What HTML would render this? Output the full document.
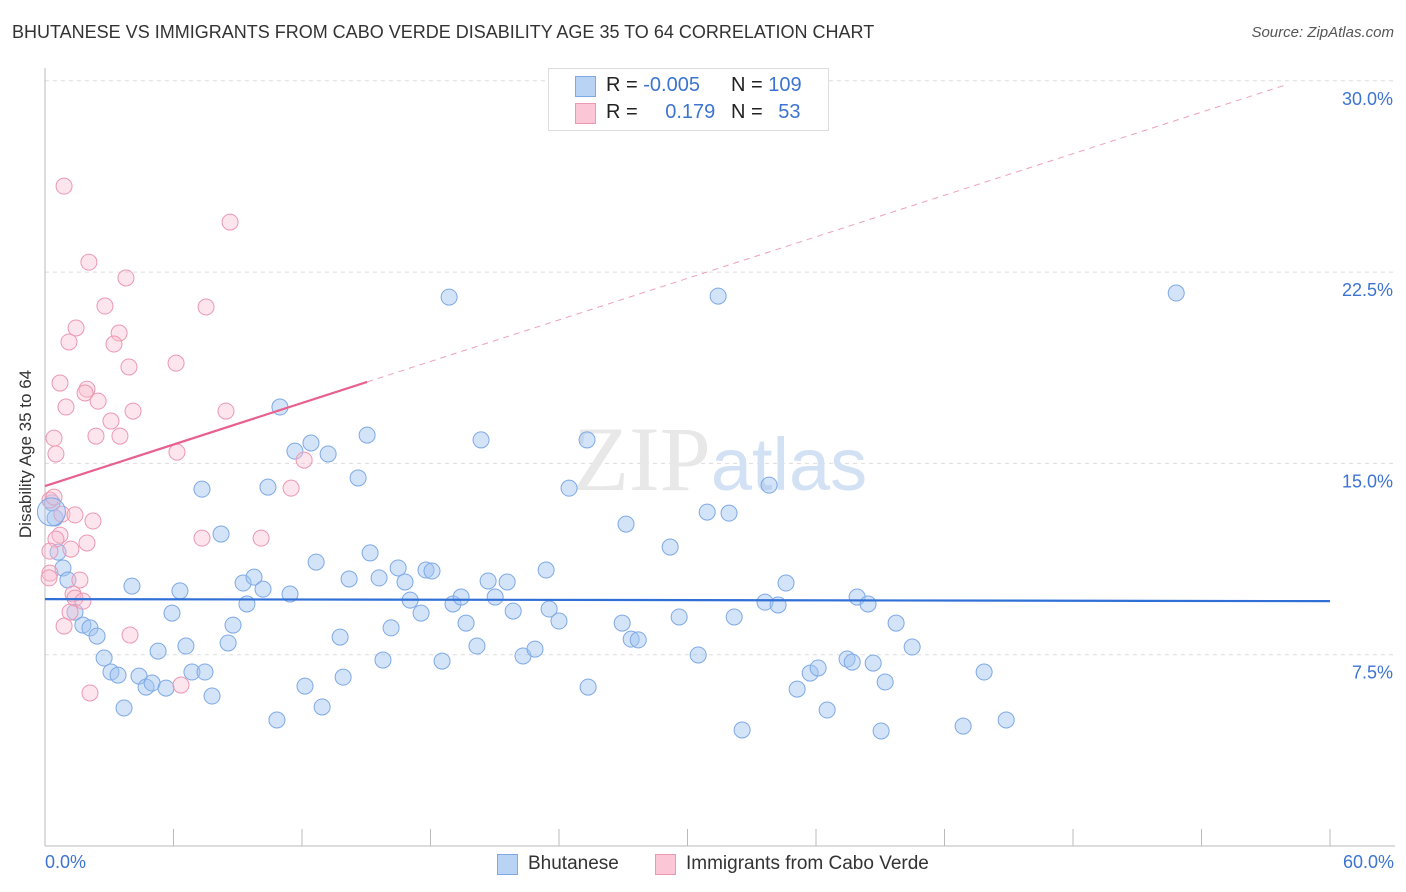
<!DOCTYPE html>
<html><head><meta charset="utf-8"><style>
body{margin:0;background:#fff;font-family:"Liberation Sans",sans-serif;}
#wrap{position:relative;width:1406px;height:892px;overflow:hidden;}
.t{position:absolute;white-space:nowrap;}
</style></head><body>
<div id="wrap">
<div class="t" style="left:12px;top:22px;font-size:18px;color:#333;">BHUTANESE VS IMMIGRANTS FROM CABO VERDE DISABILITY AGE 35 TO 64 CORRELATION CHART</div>
<div class="t" style="right:12px;top:24px;font-size:15px;color:#555;font-style:italic;">Source: ZipAtlas.com</div>
<div class="t" style="left:-64px;top:444px;font-size:17px;color:#333;transform:rotate(-90deg);width:180px;text-align:center;">Disability Age 35 to 64</div>
<svg id="svg" width="1406" height="892" style="position:absolute;left:0;top:0;"></svg>
<div style="position:absolute;left:548px;top:68px;width:279px;height:61px;border:1px solid #ddd;background:#fff;"></div>
<div style="position:absolute;left:575px;top:76px;width:19px;height:19px;background:#b9d3f5;border:1px solid #7ea9e6;"></div>
<div style="position:absolute;left:575px;top:103px;width:19px;height:19px;background:#fbc7d6;border:1px solid #eb98b1;"></div>
<div class="t" style="left:606px;top:74px;font-size:20px;color:#222;">R = <span style="color:#3d74d1">-0.005</span></div>
<div class="t" style="left:731px;top:74px;font-size:20px;color:#222;">N = <span style="color:#3d74d1">109</span></div>
<div class="t" style="left:606px;top:101px;font-size:20px;color:#222;">R = <span style="color:#3d74d1;margin-left:22px">0.179</span></div>
<div class="t" style="left:731px;top:101px;font-size:20px;color:#222;">N = <span style="color:#3d74d1;margin-left:10px">53</span></div>
<div class="t" style="left:45px;top:852px;font-size:18px;color:#3d74d1;">0.0%</div>
<div class="t" style="right:12px;top:852px;font-size:18px;color:#3d74d1;">60.0%</div>
<div style="position:absolute;left:497px;top:854px;width:19px;height:19px;background:#b9d3f5;border:1px solid #7ea9e6;"></div>
<div class="t" style="left:528px;top:853px;font-size:19px;color:#333;">Bhutanese</div>
<div style="position:absolute;left:655px;top:854px;width:19px;height:19px;background:#fbc7d6;border:1px solid #eb98b1;"></div>
<div class="t" style="left:686px;top:853px;font-size:19px;color:#333;">Immigrants from Cabo Verde</div>
</div>
<script>
const blueX=[0.33,0.47,0.61,0.84,1.07,1.40,1.77,2.10,2.43,2.76,3.08,3.41,3.69,4.06,4.39,4.72,5.00,5.28,5.65,5.93,6.30,6.58,6.86,7.33,7.47,7.80,8.22,8.55,8.78,9.25,9.43,9.76,10.18,10.41,10.83,10.97,11.44,11.67,12.14,12.42,12.66,12.94,13.22,13.78,13.92,14.20,14.62,15.04,15.18,15.60,15.78,16.16,16.49,16.81,17.05,17.56,17.79,18.07,18.54,18.87,19.05,19.43,19.66,20.17,20.36,20.69,21.02,21.58,21.86,22.32,22.88,23.40,23.54,24.00,24.47,25.36,25.31,26.95,27.13,27.37,27.70,29.19,29.61,30.50,30.92,31.43,31.94,32.18,32.55,33.62,33.81,34.23,34.60,35.12,35.73,36.10,36.52,37.45,37.69,37.92,38.43,38.67,39.04,39.23,39.74,40.49,42.87,43.85,44.88,52.82];
const blueY=[13.45,12.86,11.52,10.90,10.43,9.17,8.66,8.55,8.23,7.37,6.82,6.70,5.41,10.19,6.66,6.23,6.39,7.64,6.19,9.13,10.00,7.84,6.82,13.99,6.82,5.88,12.23,7.96,8.66,10.31,9.49,10.54,10.07,14.07,4.94,17.21,9.88,15.48,6.27,15.80,11.13,5.45,15.37,8.19,6.62,10.47,14.43,16.11,11.49,10.51,7.29,8.55,10.90,10.35,9.64,9.13,10.82,10.78,7.25,21.52,9.49,9.76,8.74,7.84,15.92,10.39,9.76,10.35,9.21,7.45,7.72,10.82,9.29,8.82,14.03,6.23,15.92,8.74,12.62,8.11,8.08,11.72,8.98,7.49,13.09,21.56,13.05,8.98,4.55,9.56,14.15,9.45,10.31,6.15,6.78,6.98,5.33,7.33,7.21,9.76,9.49,7.17,4.51,6.43,8.74,7.80,4.70,6.82,4.94,21.68];
const pinkX=[0.89,8.64,2.05,3.78,2.80,7.52,1.45,3.46,1.12,3.22,3.92,6.12,0.70,1.96,1.87,2.48,0.98,4.11,8.45,3.08,0.42,2.38,3.50,0.51,6.16,12.10,11.49,0.23,0.42,0.79,1.40,2.24,0.70,0.51,1.96,1.21,7.33,10.09,0.23,0.23,1.63,0.19,1.31,1.40,1.17,1.77,0.89,3.97,6.35,2.10];
const pinkY=[25.87,24.46,22.89,22.27,21.17,21.13,20.31,20.11,19.76,19.68,18.78,18.93,18.15,17.91,17.76,17.44,17.21,17.05,17.05,16.66,15.99,16.07,16.07,15.37,15.44,15.13,14.03,13.56,13.68,13.01,12.98,12.74,12.19,12.03,11.88,11.64,12.07,12.07,11.56,10.70,10.43,10.51,9.88,9.72,9.17,9.60,8.62,8.27,6.31,6.00];
const blueTrend=[9.68,9.60];
const pinkTrend=[14.11,30.4];
const pinkSolidEnd=15.04;
const yTicks=[7.5,15,22.5,30];
const xTicks=[0,6,12,18,24,30,36,42,48,54,60];
const NS="http://www.w3.org/2000/svg";
const svg=document.getElementById('svg');
const X=v=>45+v/60*1285;
const Y=v=>846-v/7.5*191.3;
function mk(t,a){const e=document.createElementNS(NS,t);for(const k in a)e.setAttribute(k,a[k]);svg.appendChild(e);return e;}
yTicks.forEach(t=>{
 const g=mk('line',{x1:45,x2:1395,y1:Y(t),y2:Y(t),stroke:'#ddd','stroke-dasharray':'4,4'});
 
 
 const tx=mk('text',{x:1393,y:Y(t)+24,'text-anchor':'end','font-size':18,fill:'#3d74d1','font-family':'Liberation Sans'});
 tx.textContent=t.toFixed(1)+'%';
 
 
});
const ax=mk('line',{x1:45,x2:1395,y1:846,y2:846,stroke:'#bbb'});


const ay=mk('line',{x1:45,x2:45,y1:68,y2:846,stroke:'#bbb'});


xTicks.forEach(t=>{
 const l=mk('line',{x1:X(t),x2:X(t),y1:829,y2:846,stroke:'#bbb'});
 
 
});
const wm=mk('text',{x:720,y:490,'text-anchor':'middle','font-size':92,fill:'#e8e8e8','font-family':'Liberation Serif'});
wm.innerHTML='ZIP<tspan fill="#d3e1f5" font-family="Liberation Sans" font-size="74">atlas</tspan>';


blueX.forEach((x,i)=>{
 const c=mk('circle',{cx:X(x),cy:Y(blueY[i]),r:8,fill:'rgba(160,195,240,0.45)',stroke:'#7ea9e6','stroke-width':1});
 
 
});
pinkX.forEach((x,i)=>{
 const c=mk('circle',{cx:X(x),cy:Y(pinkY[i]),r:8,fill:'rgba(250,190,210,0.4)',stroke:'#eb98b1','stroke-width':1});
 
 
});
const big=mk('circle',{cx:X(0.3),cy:Y(13.1),r:14,fill:'rgba(160,195,240,0.35)',stroke:'#7ea9e6'});


const bt=mk('line',{x1:X(0),y1:Y(blueTrend[0]),x2:X(60),y2:Y(blueTrend[1]),stroke:'#2f6fd6','stroke-width':2.2});


const py=x=>pinkTrend[0]+(pinkTrend[1]-pinkTrend[0])*x/60;
const ps=mk('line',{x1:X(0),y1:Y(py(0)),x2:X(pinkSolidEnd),y2:Y(py(pinkSolidEnd)),stroke:'#e8608e','stroke-width':2.2});


const pd=mk('line',{x1:X(pinkSolidEnd),y1:Y(py(pinkSolidEnd)),x2:X(58),y2:Y(py(58)),stroke:'#eea0b8','stroke-width':1,'stroke-dasharray':'6,5'});


</script>
</body></html>
